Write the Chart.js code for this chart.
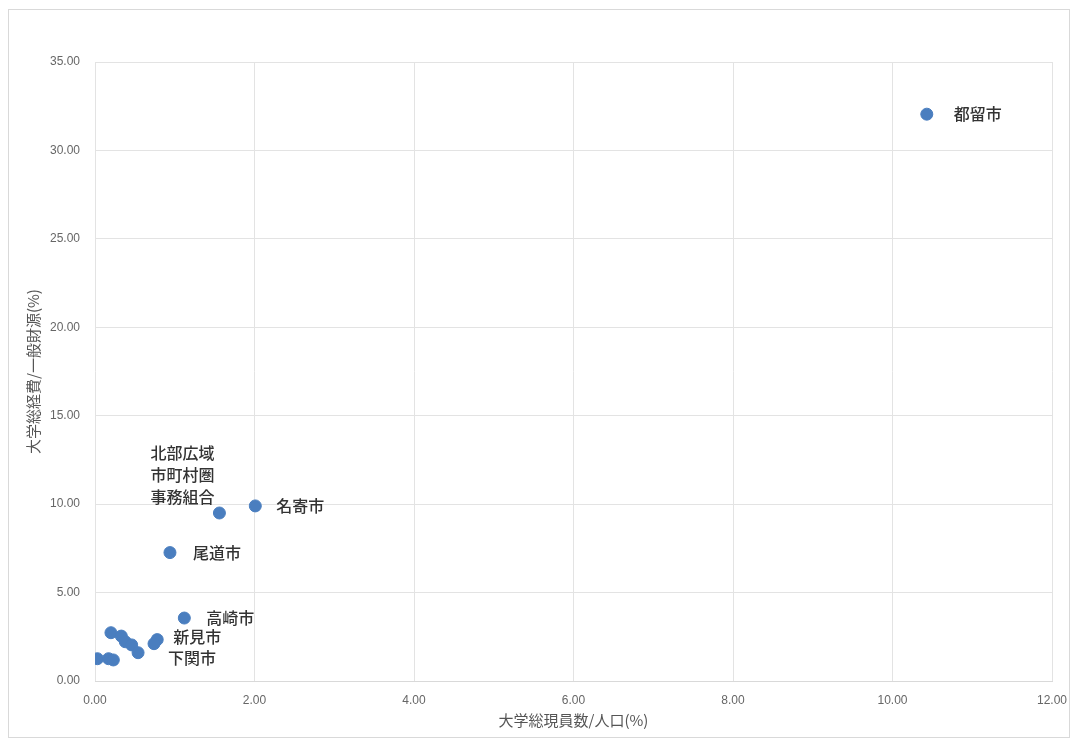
<!DOCTYPE html>
<html>
<head>
<meta charset="utf-8">
<script src="https://cdn.jsdelivr.net/npm/chart.js@4/dist/chart.umd.min.js"></script>
<style>
  html, body { margin: 0; padding: 0; background: #fff; }
  #wrap { position: relative; width: 1070px; height: 742px; }
  #frame { position: absolute; left: 8px; top: 9px; width: 1060px; height: 727px; border: 1px solid #d9d9d9; pointer-events: none; }
</style>
</head>
<body>
<div id="wrap">
  <canvas id="scatter" width="1070" height="742"></canvas>
  <div id="frame"></div>
</div>
<script>
// 大学総現員数/人口(%) vs 大学総経費/一般財源(%)
const xValues = [10.43, 2.01, 1.56, 0.94, 1.12, 0.78, 0.74, 0.20, 0.33, 0.38, 0.46, 0.54, 0.03, 0.17, 0.23];
const yValues = [32.05, 9.90, 9.50, 7.26, 3.56, 2.34, 2.11, 2.73, 2.54, 2.22, 2.04, 1.60, 1.26, 1.26, 1.19];
const pointNames = ['都留市', '名寄市', '北部広域\n市町村圏\n事務組合', '尾道市', '高崎市', '新見市', '下関市', '', '', '', '', '', '', '', ''];
const xTicks = [0, 2, 4, 6, 8, 10, 12];
const yTicks = [0, 5, 10, 15, 20, 25, 30, 35];

// label offsets relative to the point (px)
const labelOffsets = {
  '都留市': [27, 0, 'left'],
  '名寄市': [21, 0, 'left'],
  '北部広域\n市町村圏\n事務組合': [-69, -60, 'left'],
  '尾道市': [23, 0, 'left'],
  '高崎市': [22, 0, 'left'],
  '新見市': [16, -3, 'left'],
  '下関市': [14, 14, 'left']
};

const pointLabels = {
  id: 'pointLabels',
  afterDatasetsDraw(chart) {
    const ctx = chart.ctx;
    const meta = chart.getDatasetMeta(0);
    ctx.save();
    ctx.font = '500 16px "Noto Sans CJK JP", sans-serif';
    ctx.fillStyle = '#333';
    ctx.textBaseline = 'middle';
    meta.data.forEach((pt, i) => {
      const name = pointNames[i];
      if (!name) return;
      const off = labelOffsets[name];
      ctx.textAlign = off[2];
      name.split('\n').forEach((line, j) => {
        ctx.fillText(line, pt.x + off[0], pt.y + off[1] + j * 22);
      });
    });
    ctx.restore();
  }
};

const data = xValues.map((x, i) => ({ x: x, y: yValues[i] }));

new Chart(document.getElementById('scatter').getContext('2d'), {
  type: 'scatter',
  data: {
    datasets: [{
      data: data,
      backgroundColor: '#4a7ebf',
      borderColor: '#4a7ebf',
      pointRadius: 6,
      pointHoverRadius: 6
    }]
  },
  options: {
    responsive: false,
    animation: false,
    layout: { padding: { left: 24, right: 18, top: 62, bottom: 10 } },
    plugins: { legend: { display: false }, tooltip: { enabled: false } },
    scales: {
      x: {
        min: 0, max: 12,
        afterFit(scale) {
          scale.height = 51;
          scale.paddingRight = 0;
          scale.paddingLeft = 0;
        },
        afterBuildTicks(scale) { scale.ticks = xTicks.map(v => ({ value: v })); },
        ticks: {
          color: '#666',
          font: { family: '"Liberation Sans Narrow", "Liberation Sans", sans-serif', size: 12 },
          padding: 12,
          callback: v => v.toFixed(2)
        },
        grid: { color: '#e3e3e3', drawTicks: false },
        border: { color: '#d9d9d9' },
        title: {
          display: true,
          text: '大学総現員数/人口(%)',
          color: '#555',
          font: { family: '"Noto Sans CJK JP", sans-serif', size: 15 },
          padding: { top: 0, bottom: 3 }
        }
      },
      y: {
        min: 0, max: 35,
        afterFit(scale) { scale.width = 71; },
        afterBuildTicks(scale) { scale.ticks = yTicks.map(v => ({ value: v })); },
        ticks: {
          color: '#666',
          font: { family: '"Liberation Sans", sans-serif', size: 12 },
          padding: 15,
          callback: v => v.toFixed(2)
        },
        grid: { color: '#e3e3e3', drawTicks: false },
        border: { display: false },
        title: {
          display: true,
          text: '大学総経費/一般財源(%)',
          color: '#555',
          font: { family: '"Noto Sans CJK JP", sans-serif', size: 15 },
          padding: { top: 0, bottom: 6 }
        }
      }
    }
  },
  plugins: [pointLabels]
});
</script>
</body>
</html>
